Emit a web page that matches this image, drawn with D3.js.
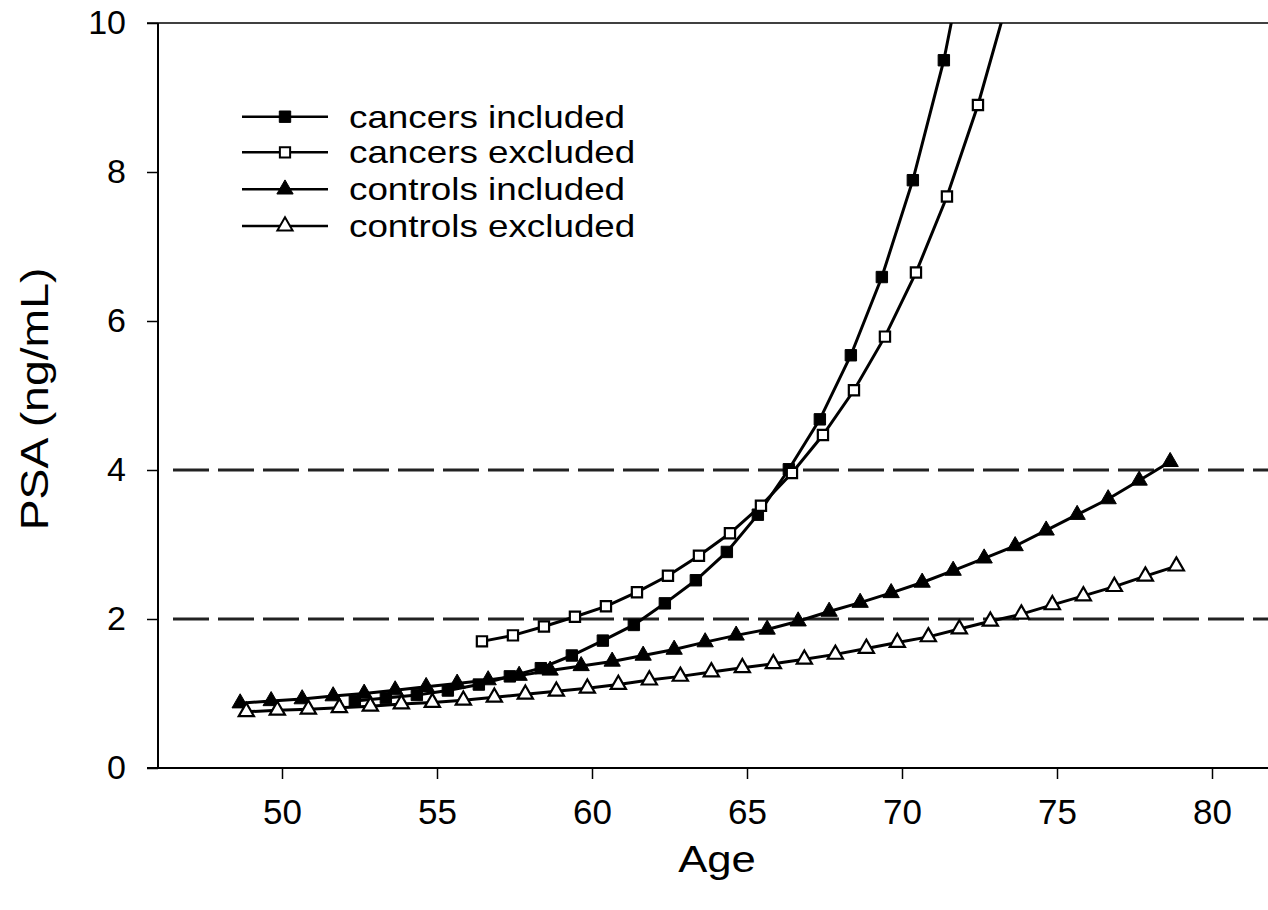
<!DOCTYPE html>
<html>
<head>
<meta charset="utf-8">
<script src="https://cdn.jsdelivr.net/npm/d3@7"></script>
<style>
  html, body { margin: 0; padding: 0; background: #fff; }
  svg { display: block; }
  text { font-family: "Liberation Sans", Arial, Helvetica, sans-serif; fill: #000; }
</style>
</head>
<body>
<svg id="chart" width="1268" height="910"></svg>
<script>
// ---- data ----
const cancersIncAge = [52.35,53.35,54.35,55.35,56.35,57.35,58.35,59.35,60.35,61.35,62.35,63.35,64.35,65.35,66.35,67.35,68.35,69.35,70.35,71.35,72.35];
const cancersIncPSA = [0.90,0.94,0.98,1.04,1.12,1.23,1.34,1.51,1.71,1.92,2.21,2.52,2.90,3.40,4.01,4.68,5.54,6.59,7.89,9.50,11.6];

const cancersExcAge = [56.45,57.45,58.45,59.45,60.45,61.45,62.45,63.45,64.45,65.45,66.45,67.45,68.45,69.45,70.45,71.45,72.45,73.45];
const cancersExcPSA = [1.70,1.78,1.90,2.03,2.17,2.36,2.58,2.85,3.15,3.52,3.96,4.47,5.07,5.79,6.65,7.67,8.90,10.37];

const controlsIncAge = [48.65,49.65,50.65,51.65,52.65,53.65,54.65,55.65,56.65,57.65,58.65,59.65,60.65,61.65,62.65,63.65,64.65,65.65,66.65,67.65,68.65,69.65,70.65,71.65,72.65,73.65,74.65,75.65,76.65,77.65,78.65];
const controlsIncPSA = [0.87,0.90,0.925,0.965,1.00,1.045,1.09,1.135,1.18,1.24,1.31,1.37,1.43,1.51,1.59,1.69,1.78,1.86,1.97,2.10,2.22,2.35,2.49,2.65,2.815,2.98,3.19,3.40,3.61,3.86,4.11];

const controlsExcAge = [48.85,49.85,50.85,51.85,52.85,53.85,54.85,55.85,56.85,57.85,58.85,59.85,60.85,61.85,62.85,63.85,64.85,65.85,66.85,67.85,68.85,69.85,70.85,71.85,72.85,73.85,74.85,75.85,76.85,77.85,78.85];
const controlsExcPSA = [0.755,0.775,0.79,0.81,0.83,0.86,0.88,0.91,0.95,0.99,1.03,1.07,1.12,1.18,1.23,1.29,1.345,1.40,1.46,1.525,1.605,1.685,1.76,1.865,1.97,2.065,2.19,2.31,2.435,2.575,2.71];

const seriesNames = ["cancers included", "cancers excluded", "controls included", "controls excluded"];
const xTicks = [50, 55, 60, 65, 70, 75, 80];
const yTicks = [0, 2, 4, 6, 8, 10];
const refLevels = [2, 4];
const xTitle = "Age";
const yTitle = "PSA (ng/mL)";

// ---- build ----
const series = [
  { name: seriesNames[0], age: cancersIncAge, psa: cancersIncPSA, shape: "square", filled: true },
  { name: seriesNames[1], age: cancersExcAge, psa: cancersExcPSA, shape: "square", filled: false },
  { name: seriesNames[2], age: controlsIncAge, psa: controlsIncPSA, shape: "triangle", filled: true },
  { name: seriesNames[3], age: controlsExcAge, psa: controlsExcPSA, shape: "triangle", filled: false }
];

const svg = d3.select("#chart");
const plotLeft = 158, plotRight = 1268, plotTop = 23, plotBottom = 768;

const x = d3.scaleLinear().domain([46, 81.8]).range([plotLeft, plotLeft + 35.8 * 31]);
const y = d3.scaleLinear().domain([0, 10]).range([plotBottom, plotTop]);

svg.append("defs").append("clipPath").attr("id", "plotclip")
  .append("rect").attr("x", plotLeft).attr("y", plotTop)
  .attr("width", plotRight - plotLeft + 20).attr("height", plotBottom - plotTop);

// reference dashed lines
svg.append("g").selectAll("line").data(refLevels).join("line")
  .attr("x1", plotLeft + 15).attr("x2", plotRight)
  .attr("y1", d => y(d)).attr("y2", d => y(d))
  .attr("stroke", "#222").attr("stroke-width", 3)
  .attr("stroke-dasharray", "36,9");

// axes
const xAxis = d3.axisBottom(x).tickValues(xTicks).tickSize(11).tickPadding(20).tickSizeOuter(0);
const gx = svg.append("g").attr("transform", `translate(0,${plotBottom})`).call(xAxis);
gx.select(".domain").remove();
gx.append("line").attr("x1", plotLeft - 11).attr("x2", plotRight).attr("y1", 0).attr("y2", 0)
  .attr("stroke", "#000").attr("stroke-width", 2);
gx.selectAll(".tick line").attr("stroke", "#000").attr("stroke-width", 1.5);
gx.selectAll(".tick text").attr("font-size", 35).attr("fill", "#000")
  .attr("font-family", "'Liberation Sans', Arial, sans-serif");

const yAxis = d3.axisLeft(y).tickValues(yTicks).tickSize(11).tickPadding(21).tickSizeOuter(0);
const gy = svg.append("g").attr("transform", `translate(${plotLeft},0)`).call(yAxis);
gy.select(".domain").remove();
gy.append("line").attr("x1", 0).attr("x2", 0).attr("y1", plotTop).attr("y2", plotBottom)
  .attr("stroke", "#000").attr("stroke-width", 2);
gy.selectAll(".tick line").attr("stroke", "#000").attr("stroke-width", 1.5);
gy.selectAll(".tick text").attr("font-size", 34).attr("fill", "#000")
  .attr("font-family", "'Liberation Sans', Arial, sans-serif");

// top frame line
svg.append("line").attr("x1", plotLeft - 11).attr("x2", plotRight)
  .attr("y1", y(10)).attr("y2", y(10)).attr("stroke", "#000").attr("stroke-width", 1.5);

// series
const line = d3.line().x(d => x(d[0])).y(d => y(d[1]));
const gPlot = svg.append("g").attr("clip-path", "url(#plotclip)");

function symbolFor(s) {
  return s.shape === "square"
    ? d3.symbol().type(d3.symbolSquare).size(s.filled ? 130 : 105)
    : d3.symbol().type(d3.symbolTriangle).size(s.filled ? 115 : 100);
}

series.forEach(s => {
  const pts = s.age.map((a, i) => [a, s.psa[i]]);
  gPlot.append("path").datum(pts).attr("d", line)
    .attr("fill", "none").attr("stroke", "#000").attr("stroke-width", 3);
});
series.forEach(s => {
  const pts = s.age.map((a, i) => [a, s.psa[i]]);
  const sym = symbolFor(s);
  gPlot.append("g").selectAll("path").data(pts).join("path")
    .attr("transform", d => `translate(${x(d[0])},${y(d[1])})`)
    .attr("d", sym)
    .attr("fill", s.filled ? "#000" : "#fff")
    .attr("stroke", "#000").attr("stroke-width", s.filled ? 1 : 2.2);
});

// legend
const legend = svg.append("g");
const legRowY = [116.7, 152.3, 189.3, 226];
series.forEach((s, i) => {
  const g = legend.append("g").attr("transform", `translate(0,${legRowY[i]})`);
  g.append("line").attr("x1", 242).attr("x2", 328).attr("y1", 0).attr("y2", 0)
    .attr("stroke", "#000").attr("stroke-width", 2.6);
  g.append("path").attr("transform", "translate(285,0)")
    .attr("d", symbolFor(s))
    .attr("fill", s.filled ? "#000" : "#fff")
    .attr("stroke", "#000").attr("stroke-width", s.filled ? 1 : 2);
  g.append("text").attr("transform", "translate(349,11) scale(1.15,1)")
    .attr("font-size", 32).text(s.name);
});

// axis titles
svg.append("text").attr("transform", "translate(717,872) scale(1.18,1)")
  .attr("text-anchor", "middle").attr("font-size", 37).text(xTitle);
svg.append("text").attr("transform", "translate(48,399) rotate(-90) scale(1.22,1)")
  .attr("text-anchor", "middle").attr("font-size", 38).text(yTitle);
</script>
</body>
</html>
